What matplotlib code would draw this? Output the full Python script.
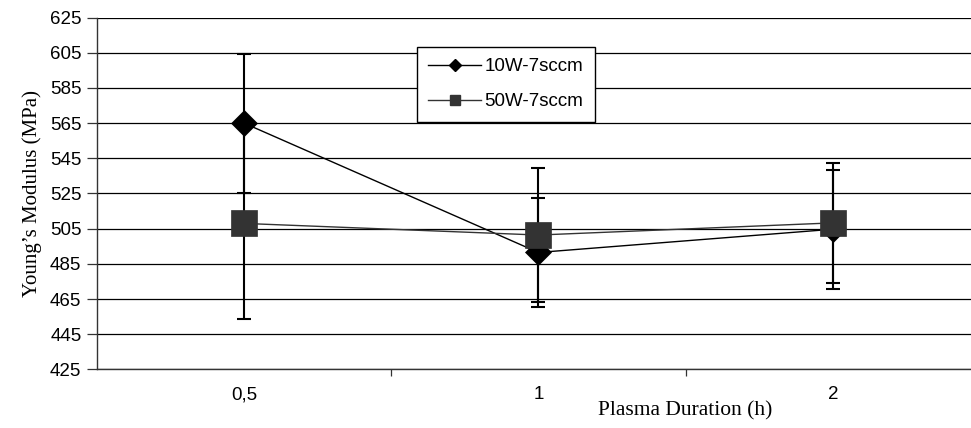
import numpy as np
import matplotlib.pyplot as plt
from matplotlib.lines import Line2D

# plasma treatment durations (h) and measured Young's modulus (MPa)
durations = ["0,5", "1", "2"]
modulus_10w = [565.0, 491.5, 504.7]
error_10w = [39.5, 30.8, 33.7]
modulus_50w = [508.0, 501.4, 508.3]
error_50w = [54.4, 38.3, 34.2]

yticks = np.arange(425, 626, 20)

plt.rcParams['font.family'] = ['Liberation Sans', 'DejaVu Sans']

fig = plt.figure(figsize=(9.71, 4.28), dpi=100)
ax = fig.add_axes([0.0996, 0.1367, 0.9097, 0.8224])

x = np.arange(len(durations))

# error bars first so the markers sit on top
ax.errorbar(x, modulus_10w, yerr=error_10w, fmt='none', ecolor='black',
            elinewidth=1.5, capsize=5, capthick=1.5, zorder=2)
ax.errorbar(x, modulus_50w, yerr=error_50w, fmt='none', ecolor='black',
            elinewidth=1.5, capsize=5, capthick=1.5, zorder=2)

ax.plot(x, modulus_10w, color='black', lw=1.0, marker='D', markersize=13.5,
        markerfacecolor='black', markeredgecolor='black', markeredgewidth=0.5,
        zorder=3)
ax.plot(x, modulus_50w, color='#333333', lw=1.0, marker='s', markersize=18.5,
        markerfacecolor='#333333', markeredgecolor='#333333', markeredgewidth=0.5,
        zorder=4)

ax.set_xlim(-0.5, 2.5)
ax.set_ylim(425, 625)
ax.set_yticks(yticks)
ax.yaxis.grid(True, color='black', lw=0.9)
ax.set_axisbelow(True)

ax.set_xticks(x)
ax.set_xticklabels(durations)
ax.set_xticks([0.5, 1.5], minor=True)
ax.tick_params(axis='x', which='major', length=0, pad=12, labelsize=13.5)
ax.tick_params(axis='x', which='minor', length=5, width=0.9, color='#333333')
ax.tick_params(axis='y', length=7, width=0.9, pad=4, labelsize=13.5, color='#333333')

for side in ['top', 'right']:
    ax.spines[side].set_visible(False)
for side in ['left', 'bottom']:
    ax.spines[side].set_color('#333333')
    ax.spines[side].set_linewidth(1.0)

ax.set_ylabel("Young\u2019s Modulus (MPa)", family='Liberation Serif', fontsize=15,
              labelpad=6)
fig.text(685 / 971, 1 - 411 / 428, "Plasma Duration (h)", family='Liberation Serif',
         fontsize=15.5, ha='center', va='center')

handles = [
    Line2D([], [], color='black', lw=1.0, marker='D', markersize=6.5,
           markerfacecolor='black', markeredgecolor='black'),
    Line2D([], [], color='#333333', lw=1.0, marker='s', markersize=7.5,
           markerfacecolor='#333333', markeredgecolor='#333333'),
]
leg = fig.legend(handles, ["10W-7sccm", "50W-7sccm"], loc='upper left',
                 bbox_to_anchor=(417 / 971, 1 - 47 / 428), fontsize=13.5,
                 frameon=True, fancybox=False, framealpha=1, edgecolor='black',
                 handlelength=2.8, handletextpad=0.2, labelspacing=0.95,
                 borderpad=0.6, borderaxespad=0)
leg.get_frame().set_linewidth(1.0)

fig.savefig("out.png", dpi=100)
